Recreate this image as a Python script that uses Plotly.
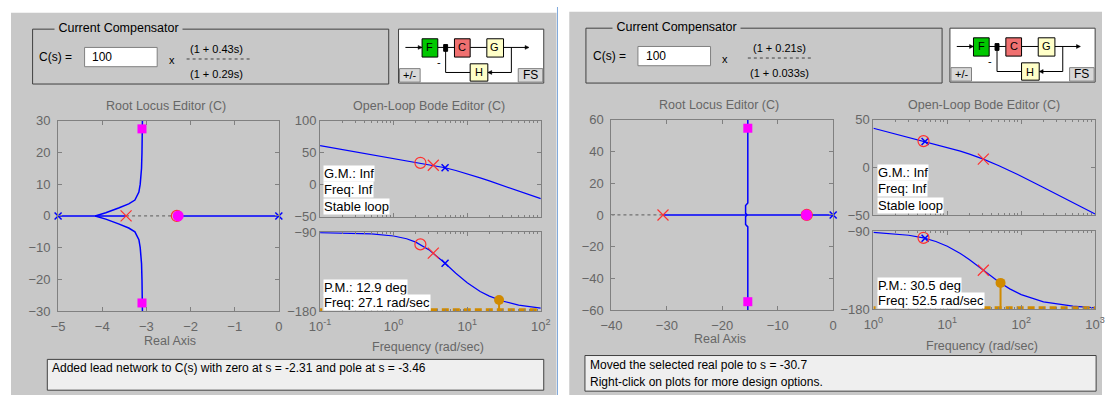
import plotly.graph_objects as go

W, H = 1112, 403
FONT = "Liberation Sans, Arial, sans-serif"
GRAY = "#c8c8c8"
AXC = "#808080"
TXC = "#666666"
BLUE = "#0000ff"
RED = "#ff3030"
MAG = "#ff00ff"
ORANGE = "#d08a00"

# ---------------- data: left design ----------------
rl1_plant_poles = [-5.0, 0.0]
rl1_comp_pole = [-3.46]
rl1_comp_zero = [-2.31]
rl1_cl_sq_re = [-3.1, -3.1]
rl1_cl_sq_im = [27.4, -27.4]
rl1_cl_real = [-2.28]
rl1_branch_re = [-4.16, -3.92, -3.63, -3.40, -3.26, -3.17, -3.14, -3.11, -3.10, -3.09]
rl1_branch_im = [0, 1, 2.5, 3.8, 5, 7.5, 10, 15, 20, 30]
rl1_real_solid = [[-5.0, -3.46], [-2.31, 0.0]]
rl1_real_dash = [-3.46, -2.31]

bode1_freq = [0.1, 0.2, 0.5, 1, 1.5, 2, 3, 5, 7, 10, 15, 20, 30, 50, 70, 100]
bode1_mag = [61.0, 55.0, 47.1, 41.2, 37.8, 35.5, 31.9, 26.6, 22.3, 17.2, 10.8, 6.0, -0.9, -9.6, -15.4, -21.6]
bode1_phase = [-90.3, -90.7, -91.9, -94.2, -97.4, -101.2, -109.8, -125.3, -136.7, -147.5,
               -157.4, -162.8, -168.3, -173.0, -175.0, -176.4]
bode1_zero = [2.31, 34.2, -103.8]
bode1_pole = [3.46, 30.5, -113.7]
bode1_plant = [5.0, 26.6, -125.3]
bode1_pm = [27.1, -167.1]
bode1_band = [[0.1, 0.107], [3.2, 100]]

# ---------------- data: right design ----------------
rl2_plant_poles = [-5.0, 0.0]
rl2_comp_pole = [-30.7]
rl2_comp_zero = [-4.76]
rl2_cl_sq_re = [-15.4, -15.4]
rl2_cl_sq_im = [54.6, -54.6]
rl2_cl_real = [-4.8]
rl2_branch_re = [-15.5, -15.8, -15.8, -15.4, -15.4]
rl2_branch_im = [0, 1, 6, 7.5, 60]
rl2_real_solid = [[-30.7, 0.0]]
rl2_real_dash = [-40, -30.7]

bode2_freq = [1, 2, 3, 4.76, 7, 10, 15, 20, 30.7, 50, 70, 100, 200, 500, 1000]
bode2_mag = [41.0, 35.0, 31.5, 27.5, 24.1, 20.9, 16.9, 13.8, 8.6, 1.7, -3.5, -9.3, -21.1, -36.9, -49.0]
bode2_phase = [-91.3, -92.8, -94.5, -97.5, -101.7, -107.2, -115.5, -122.8, -134.9, -148.5,
               -156.4, -163.0, -171.4, -176.4, -178.3]
bode2_zero = [4.76, 27.5, -97.5]
bode2_pole = [30.7, 8.6, -134.9]
bode2_plant = [5.0, 27.1, -98.0]
bode2_pm = [52.5, -149.5]
bode2_band = [[1, 1.07], [31, 1000]]

texts = {
    "left": dict(num="(1 + 0.43s)", den="(1 + 0.29s)", gain="100", pm="P.M.: 12.9 deg",
                 pmf="Freq: 27.1 rad/sec",
                 status=["Added lead network to C(s) with zero at s = -2.31 and pole at s = -3.46"]),
    "right": dict(num="(1 + 0.21s)", den="(1 + 0.033s)", gain="100", pm="P.M.: 30.5 deg",
                  pmf="Freq: 52.5 rad/sec",
                  status=["Moved the selected real pole to s = -30.7",
                          "Right-click on plots for more design options."]),
}

# ---------------- helpers ----------------
def X(p):
    return p / W


def Y(p):
    return 1 - p / H


shapes = []
annots = []


def rect(x0, y0, x1, y1, fill=None, line="#404040", lw=1):
    shapes.append(dict(type="rect", xref="paper", yref="paper", x0=X(x0), x1=X(x1),
                       y0=Y(y1), y1=Y(y0), fillcolor=fill or "rgba(0,0,0,0)",
                       line=dict(color=line, width=lw), layer="below"))


def seg(x0, y0, x1, y1, color="#000000", lw=1, dash=None):
    shapes.append(dict(type="line", xref="paper", yref="paper", x0=X(x0), x1=X(x1),
                       y0=Y(y0), y1=Y(y1), line=dict(color=color, width=lw, dash=dash),
                       layer="below"))


def tri(pts, color="#000000"):
    path = "M " + " L ".join(f"{X(a)},{Y(b)}" for a, b in pts) + " Z"
    shapes.append(dict(type="path", xref="paper", yref="paper", path=path,
                       fillcolor=color, line=dict(color=color, width=0.5), layer="below"))


def text(x, y, s, size=12, color="#000000", xanchor="center", bg=None):
    a = dict(xref="paper", yref="paper", x=X(x), y=Y(y), text=s, showarrow=False,
             xanchor=xanchor, yanchor="middle",
             font=dict(family=FONT, size=size, color=color), borderpad=0)
    if bg:
        a["bgcolor"] = bg
    annots.append(a)


# ---------------- panels background ----------------
rect(0, 6, 556, 403, fill=GRAY, line=GRAY, lw=0)
rect(569, 5, 1112, 403, fill=GRAY, line=GRAY, lw=0)
seg(557, 0, 557, 403, color="#7fa8dc", lw=1)


def compensator(ox, oy, t, title_x, numc, dotx, right):
    rect(ox + 22, oy + 23, right, oy + 80, line="#404040")
    text(title_x, oy + 22, "&nbsp;Current Compensator&nbsp;", size=12.5, bg=GRAY)
    text(ox + 28, oy + 52, "C(s) =", size=12, xanchor="left")
    rect(ox + 75, oy + 42, ox + 149, oy + 62, fill="#ffffff", line="#808080")
    text(ox + 82, oy + 52, t["gain"], size=12, xanchor="left")
    text(ox + 164, oy + 55, "x", size=11)
    text(numc, oy + 44, t["num"], size=11)
    seg(dotx[0], oy + 54, dotx[1], oy + 54, color="#404040", lw=1, dash="dot")
    text(numc, oy + 70, t["den"], size=11)


def block_diagram(ox, oy):
    rect(ox + 395, oy + 23, ox + 543, oy + 79, fill="#ffffff", line="#404040")
    yl = oy + 42
    seg(ox + 402, yl, ox + 419, yl)
    tri([(ox + 419, yl), (ox + 415, yl - 2), (ox + 415, yl + 2)])
    seg(ox + 435, yl, ox + 443, yl)
    seg(ox + 445, yl, ox + 452, yl)
    seg(ox + 468, yl, ox + 485, yl)
    seg(ox + 502, yl, ox + 527, yl)
    tri([(ox + 528, yl), (ox + 524, yl - 2), (ox + 524, yl + 2)])
    seg(ox + 510, yl, ox + 510, oy + 68)
    seg(ox + 510, oy + 68, ox + 486, oy + 68)
    tri([(ox + 486, oy + 68), (ox + 490, oy + 66), (ox + 490, oy + 70)])
    seg(ox + 468, oy + 68, ox + 443, oy + 68)
    seg(ox + 443, oy + 68, ox + 443, yl)
    rect(ox + 441, yl - 3, ox + 445, yl + 4, fill="#000000", line="#000000")
    text(ox + 436, oy + 57, "-", size=11)
    rect(ox + 419, oy + 33, ox + 435, oy + 52, fill="#00c800", line="#000000")
    text(ox + 427, oy + 42, "F", size=11)
    rect(ox + 452, oy + 33, ox + 468, oy + 52, fill="#f07070", line="#000000")
    text(ox + 460, oy + 42, "C", size=11)
    rect(ox + 485, oy + 33, ox + 502, oy + 52, fill="#ffffc8", line="#000000")
    text(ox + 493, oy + 42, "G", size=11)
    rect(ox + 468, oy + 59, ox + 486, oy + 77, fill="#ffffc8", line="#000000")
    text(ox + 477, oy + 68, "H", size=11)
    rect(ox + 396, oy + 64, ox + 417, oy + 78, fill="#d8d8d8", line="#808080")
    text(ox + 406.5, oy + 71, "+/-", size=11)
    rect(ox + 517, oy + 64, ox + 542, oy + 78, fill="#d8d8d8", line="#808080")
    text(ox + 529.5, oy + 71, "FS", size=12)


compensator(0, 0, texts["left"], 110, 209, (179, 246), 385)
compensator(564, -1, texts["right"], 678, 783, (751, 818), 949)
block_diagram(0, 0)
block_diagram(562, -1)

# titles / axis labels
text(158, 103, "Root Locus Editor (C)", size=12.5, color=TXC)
text(426, 103, "Open-Loop Bode Editor (C)", size=12.5, color=TXC)
text(722, 102, "Root Locus Editor (C)", size=12.5, color=TXC)
text(992, 102, "Open-Loop Bode Editor (C)", size=12.5, color=TXC)
text(162, 347, "Real Axis", size=12.5, color=TXC)
text(425, 353, "Frequency (rad/sec)", size=12.5, color=TXC)
text(723, 345, "Real Axis", size=12.5, color=TXC)
text(990, 352, "Frequency (rad/sec)", size=12.5, color=TXC)

# status boxes
rect(37, 366, 543, 398, fill="#efefef", line="#404040")
text(41, 375, texts["left"]["status"][0], size=12, xanchor="left")
rect(585, 362, 1106, 399, fill="#efefef", line="#404040")
text(589, 372, texts["right"]["status"][0], size=12, xanchor="left")
text(589, 389, texts["right"]["status"][1], size=12, xanchor="left")


def bode_texts(x, ymag, yph, t):
    for i, s in enumerate(["G.M.: Inf", "Freq: Inf", "Stable loop"]):
        text(x, ymag + 17 * i, s, size=13, xanchor="left", bg="#ffffff")
    text(x, yph, t["pm"], size=13, xanchor="left", bg="#ffffff")
    text(x, yph + 16, t["pmf"], size=13, xanchor="left", bg="#ffffff")


bode_texts(318, 173, 291, texts["left"])
bode_texts(883, 172, 289, texts["right"])

# ---------------- figure & traces ----------------
fig = go.Figure()


def line(x, y, ax, color=BLUE, width=1.5, dash=None):
    fig.add_trace(go.Scatter(x=x, y=y, xaxis="x" + ax, yaxis="y" + ax, mode="lines",
                             line=dict(color=color, width=width, dash=dash),
                             hoverinfo="skip", showlegend=False))


def mark(x, y, ax, symbol, color, size, lw=1.5, fill=None):
    fig.add_trace(go.Scatter(x=x, y=y, xaxis="x" + ax, yaxis="y" + ax, mode="markers",
                             marker=dict(symbol=symbol, size=size, color=fill or color,
                                         line=dict(color=color, width=lw)),
                             hoverinfo="skip", showlegend=False, cliponaxis=False))


def root_locus(ax, solids, dash, br_re, br_im, plant, cpole, czero, sq_re, sq_im, clr):
    line(dash, [0, 0], ax, color="#707070", width=1.2, dash="3px,3px")
    for s in solids:
        line(s, [0, 0], ax)
    line(br_re, br_im, ax)
    line(br_re, [-v for v in br_im], ax)
    mark(plant, [0] * len(plant), ax, "x-thin-open", BLUE, 7, lw=1.5)
    mark(cpole, [0], ax, "x-thin-open", RED, 11, lw=1.2)
    mark(czero, [0], ax, "circle-open", RED, 11, lw=1.2)
    mark(sq_re, sq_im, ax, "square", MAG, 9, lw=0)
    mark(clr, [0], ax, "circle", MAG, 11, lw=0)


def bode(axm, axp, f, mag, ph, z, p, pl, pm, band):
    line(f, mag, axm, width=1.2)
    line(f, ph, axp, width=1.2)
    for b in band:
        line(b, [-180, -180], axp, color=ORANGE, width=6, dash="7px,4px")
    line([pm[0], pm[0]], [pm[1], -180], axp, color=ORANGE, width=2)
    mark([pm[0]], [pm[1]], axp, "circle", ORANGE, 10, lw=0)
    for ax, k in ((axm, 1), (axp, 2)):
        mark([pl[0]], [pl[k]], ax, "x-thin-open", BLUE, 7, lw=1.5)
        mark([z[0]], [z[k]], ax, "circle-open", RED, 11, lw=1.2)
        mark([p[0]], [p[k]], ax, "x-thin-open", RED, 11, lw=1.2)


root_locus("", rl1_real_solid, rl1_real_dash, rl1_branch_re, rl1_branch_im,
           rl1_plant_poles, rl1_comp_pole, rl1_comp_zero, rl1_cl_sq_re, rl1_cl_sq_im, rl1_cl_real)
bode("2", "3", bode1_freq, bode1_mag, bode1_phase, bode1_zero, bode1_pole, bode1_plant,
     bode1_pm, bode1_band)
root_locus("4", rl2_real_solid, rl2_real_dash, rl2_branch_re, rl2_branch_im,
           rl2_plant_poles, rl2_comp_pole, rl2_comp_zero, rl2_cl_sq_re, rl2_cl_sq_im, rl2_cl_real)
bode("5", "6", bode2_freq, bode2_mag, bode2_phase, bode2_zero, bode2_pole, bode2_plant,
     bode2_pm, bode2_band)

# ---------------- axes ----------------
def xd(a, b):
    return [a / W, b / W]


def yd(top, bottom):
    return [1 - bottom / H, 1 - top / H]


base = dict(showline=True, linecolor=AXC, linewidth=1, mirror="ticks", ticks="inside",
            ticklen=4, tickcolor=AXC, showgrid=False, zeroline=False, fixedrange=True,
            tickfont=dict(family=FONT, size=13, color=TXC))
xbase = dict(base, ticklabelstandoff=3)
rlybase = dict(base, ticklabelstandoff=4)


def minor_for(e0, e1):
    return dict(ticks="inside", ticklen=2, tickcolor=AXC, showgrid=False,
                tickvals=[m * 10 ** e for e in range(e0, e1) for m in range(2, 10)])


def logx(dom, rng, anchor, labels):
    d = dict(xbase, domain=dom, type="log", range=rng, anchor=anchor,
             tickvals=[10 ** e for e in range(rng[0], rng[1] + 1)], minor=minor_for(rng[0], rng[1]))
    if labels:
        d["ticktext"] = [f"10<sup>{e}</sup>" for e in range(rng[0], rng[1] + 1)]
    else:
        d["showticklabels"] = False
    return d


fig.update_layout(
    width=W, height=H, margin=dict(l=0, r=0, t=0, b=0),
    paper_bgcolor="#ffffff", plot_bgcolor="#ffffff",
    showlegend=False, shapes=shapes, annotations=annots,
    font=dict(family=FONT, size=12, color="#000000"),
    xaxis=dict(xbase, domain=xd(48, 273), range=[-5, 0], anchor="y", dtick=1),
    yaxis=dict(rlybase, domain=yd(118, 316), range=[-30, 30], anchor="x", dtick=10),
    xaxis2=logx(xd(315, 540), [-1, 2], "y2", False),
    yaxis2=dict(base, domain=yd(118, 218), range=[-50, 100], anchor="x2", dtick=50),
    xaxis3=logx(xd(315, 540), [-1, 2], "y3", True),
    yaxis3=dict(base, domain=yd(234, 316), range=[-180, -90], anchor="x3", tickvals=[-180, -90]),
    xaxis4=dict(xbase, domain=xd(612, 838), range=[-40, 0], anchor="y4", dtick=10),
    yaxis4=dict(rlybase, domain=yd(117, 315), range=[-60, 60], anchor="x4", dtick=20),
    xaxis5=logx(xd(879, 1105), [0, 3], "y5", False),
    yaxis5=dict(base, domain=yd(117, 216), range=[-50, 50], anchor="x5", dtick=50),
    xaxis6=logx(xd(879, 1105), [0, 3], "y6", True),
    yaxis6=dict(base, domain=yd(233, 314), range=[-180, -90], anchor="x6", tickvals=[-180, -90]),
)

fig.write_html("out.html", config={"displayModeBar": False},
               post_script="document.body.style.margin='0';document.body.style.overflow='hidden';")
